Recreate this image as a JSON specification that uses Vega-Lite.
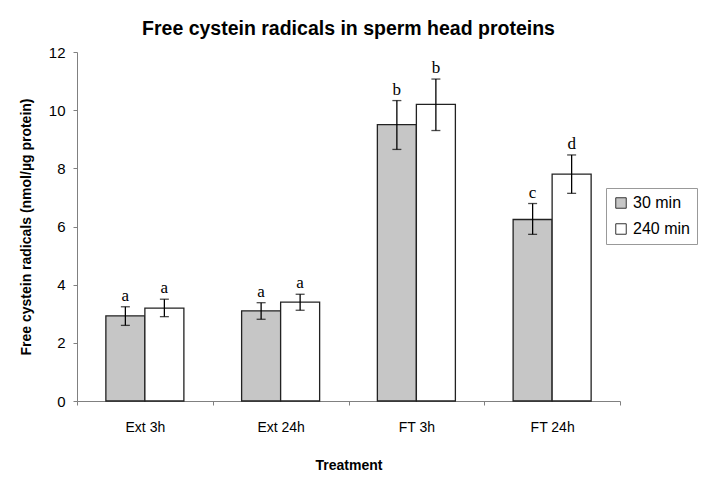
{
  "$schema": "https://vega.github.io/schema/vega-lite/v6.json",
  "autosize": "none",
  "width": 543,
  "height": 349,
  "padding": {"left": 77, "top": 52, "right": 83, "bottom": 91},
  "background": "white",
  "title": {
    "text": "Free cystein radicals in sperm head proteins",
    "font": "Liberation Sans",
    "fontSize": 19.5,
    "fontWeight": "bold",
    "color": "black",
    "anchor": "middle",
    "offset": 6
  },
  "data": {
    "values": [
      {"treatment": "Ext 3h", "time": "30 min", "value": 2.93, "lo": 2.6, "hi": 3.24, "letter": "a"},
      {"treatment": "Ext 3h", "time": "240 min", "value": 3.19, "lo": 2.9, "hi": 3.5, "letter": "a"},
      {"treatment": "Ext 24h", "time": "30 min", "value": 3.1, "lo": 2.81, "hi": 3.38, "letter": "a"},
      {"treatment": "Ext 24h", "time": "240 min", "value": 3.4, "lo": 3.12, "hi": 3.67, "letter": "a"},
      {"treatment": "FT 3h", "time": "30 min", "value": 9.5, "lo": 8.65, "hi": 10.33, "letter": "b"},
      {"treatment": "FT 3h", "time": "240 min", "value": 10.2, "lo": 9.3, "hi": 11.07, "letter": "b"},
      {"treatment": "FT 24h", "time": "30 min", "value": 6.24, "lo": 5.73, "hi": 6.79, "letter": "c"},
      {"treatment": "FT 24h", "time": "240 min", "value": 7.8, "lo": 7.14, "hi": 8.46, "letter": "d"}
    ]
  },
  "encoding": {
    "x": {
      "field": "treatment",
      "type": "nominal",
      "sort": ["Ext 3h", "Ext 24h", "FT 3h", "FT 24h"],
      "scale": {"paddingInner": 0, "paddingOuter": 0},
      "axis": {
        "title": "Treatment",
        "labelAngle": 0,
        "tickBand": "extent",
        "labelPadding": 15,
        "titlePadding": 24
      }
    },
    "xOffset": {
      "field": "time",
      "type": "nominal",
      "sort": ["30 min", "240 min"],
      "scale": {"paddingInner": 0, "paddingOuter": 0.74}
    }
  },
  "layer": [
    {
      "mark": {"type": "bar", "stroke": "#222222", "strokeWidth": 1.3},
      "encoding": {
        "y": {
          "field": "value",
          "type": "quantitative",
          "scale": {"domain": [0, 12], "nice": false},
          "axis": {
            "title": "Free cystein radicals (nmol/µg protein)",
            "values": [0, 1, 2, 3, 4, 5, 6, 7, 8, 9, 10, 11, 12],
            "labelExpr": "datum.value % 2 == 0 ? datum.label : ''",
            "grid": false,
            "labelFontSize": 15,
            "labelPadding": 8,
            "titlePadding": 15
          }
        },
        "fill": {
          "field": "time",
          "type": "nominal",
          "sort": ["30 min", "240 min"],
          "scale": {"domain": ["30 min", "240 min"], "range": ["#c6c6c6", "#ffffff"]},
          "legend": {
            "title": null,
            "orient": "none",
            "legendX": 529,
            "legendY": 136,
            "symbolType": "square",
            "symbolSize": 110,
            "symbolStrokeColor": "#333333",
            "symbolStrokeWidth": 1,
            "labelFontSize": 16,
            "labelFont": "Liberation Sans",
            "labelColor": "black",
            "rowPadding": 10,
            "padding": 7,
            "strokeColor": "#999999",
            "fillColor": "white"
          }
        }
      }
    },
    {
      "mark": {"type": "rule", "color": "black", "strokeWidth": 1.3},
      "encoding": {
        "y": {"field": "lo", "type": "quantitative"},
        "y2": {"field": "hi"}
      }
    },
    {
      "mark": {"type": "tick", "color": "black", "size": 9, "thickness": 1.3, "orient": "horizontal"},
      "encoding": {"y": {"field": "lo", "type": "quantitative"}}
    },
    {
      "mark": {"type": "tick", "color": "black", "size": 9, "thickness": 1.3, "orient": "horizontal"},
      "encoding": {"y": {"field": "hi", "type": "quantitative"}}
    },
    {
      "mark": {"type": "text", "baseline": "bottom", "dy": -2, "font": "Liberation Serif", "fontSize": 17, "color": "black"},
      "encoding": {
        "y": {"field": "hi", "type": "quantitative"},
        "text": {"field": "letter"}
      }
    }
  ],
  "config": {
    "view": {"stroke": null},
    "axis": {
      "domainColor": "#808080",
      "tickColor": "#808080",
      "tickSize": 4,
      "labelFont": "Liberation Sans",
      "labelFontSize": 14,
      "labelColor": "black",
      "titleFont": "Liberation Sans",
      "titleFontSize": 14,
      "titleFontWeight": "bold",
      "titleColor": "black"
    }
  }
}
